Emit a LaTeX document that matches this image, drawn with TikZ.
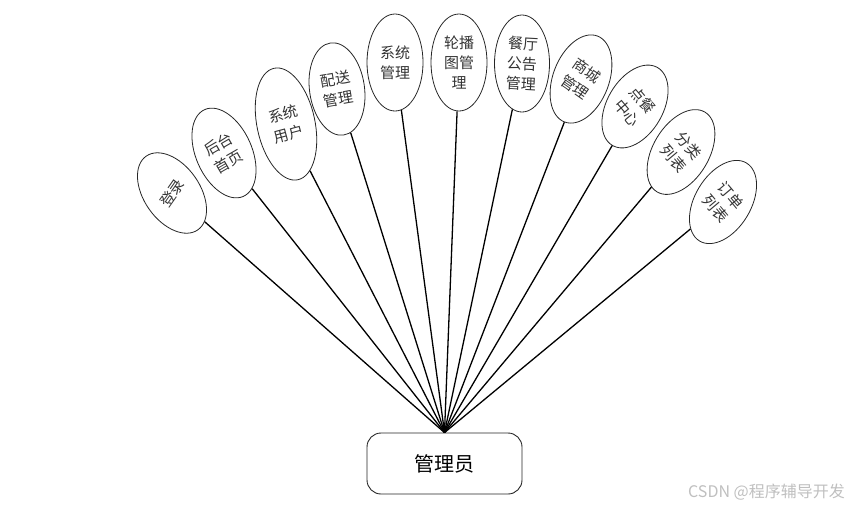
\documentclass[tikz,border=0pt]{standalone}
\usepackage{fontspec}
\setmainfont{Noto Sans CJK SC}
\usetikzlibrary{shapes.geometric}
\begin{document}
\begin{tikzpicture}[x=1pt,y=-1pt,
  bubble/.style={draw=black!85, line width=0.8pt, ellipse, inner sep=0pt, minimum width=56pt, minimum height=94pt},
  btext/.style={font=\fontsize{15}{20}\selectfont, text=black!80, align=center, inner sep=0pt},
  link/.style={draw=black, line width=1.3pt},
  rootbox/.style={draw=black!85, line width=0.9pt, rounded corners=14pt, minimum width=155pt, minimum height=61pt, font=\fontsize{20}{23}\selectfont, text=black},
  wmark/.style={font=\fontsize{16}{18}\selectfont, text=black!25, inner sep=0pt}]
\useasboundingbox (0,0) rectangle (850,507);
\node[rootbox] (root) at (444.5,463.5) {管理员};
\coordinate (apex) at (root.north);
% ellipses
\node[bubble, rotate=35, minimum height=90pt] (e1) at (172,193) {};
\node[btext, rotate=55] (t1) at (e1.center) {登录};
\node[bubble, rotate=24, minimum height=95pt] (e2) at (224,153) {};
\node[btext, rotate=30] (t2) at (e2.center) {后台\\首页};
\node[bubble, rotate=12, minimum width=58pt, minimum height=114pt] (e3) at (286,124) {};
\node[btext, rotate=15] (t3) at (e3.center) {系统\\用户};
\node[bubble, rotate=8, minimum width=55pt, minimum height=93pt] (e4) at (337,89) {};
\node[btext, rotate=10] (t4) at (e4.center) {配送\\管理};
\node[bubble, minimum height=97pt] (e5) at (395,62.5) {};
\node[btext] (t5) at (e5.center) {系统\\管理};
\node[bubble, minimum height=97pt] (e6) at (459,62.5) {};
\node[btext] (t6) at (e6.center) {轮播\\图管\\理};
\node[bubble, minimum width=55pt, minimum height=97pt] (e7) at (522,63.5) {};
\node[btext, rotate=-3] (t7) at (e7.center) {餐厅\\公告\\管理};
\node[bubble, rotate=-21, minimum height=92pt] (e8) at (581,79) {};
\node[btext, rotate=-35] (t8) at (e8.center) {商城\\管理};
\node[bubble, rotate=-30, minimum height=90pt] (e9) at (635,106.5) {};
\node[btext, rotate=-50] (t9) at (e9.center) {点餐\\中心};
\node[bubble, rotate=-31, minimum height=93pt] (e10) at (681,152) {};
\node[btext, rotate=-50] (t10) at (e10.center) {分类\\列表};
\node[bubble, rotate=-31, minimum height=91pt] (e11) at (723,202) {};
\node[btext, rotate=-50] (t11) at (e11.center) {订单\\列表};
% connectors
\foreach \i in {1,...,11} {\draw[link] (apex) -- (e\i);}
\node[wmark, anchor=east] (wm) at (845,492) {CSDN @程序辅导开发};
\end{tikzpicture}
\end{document}
